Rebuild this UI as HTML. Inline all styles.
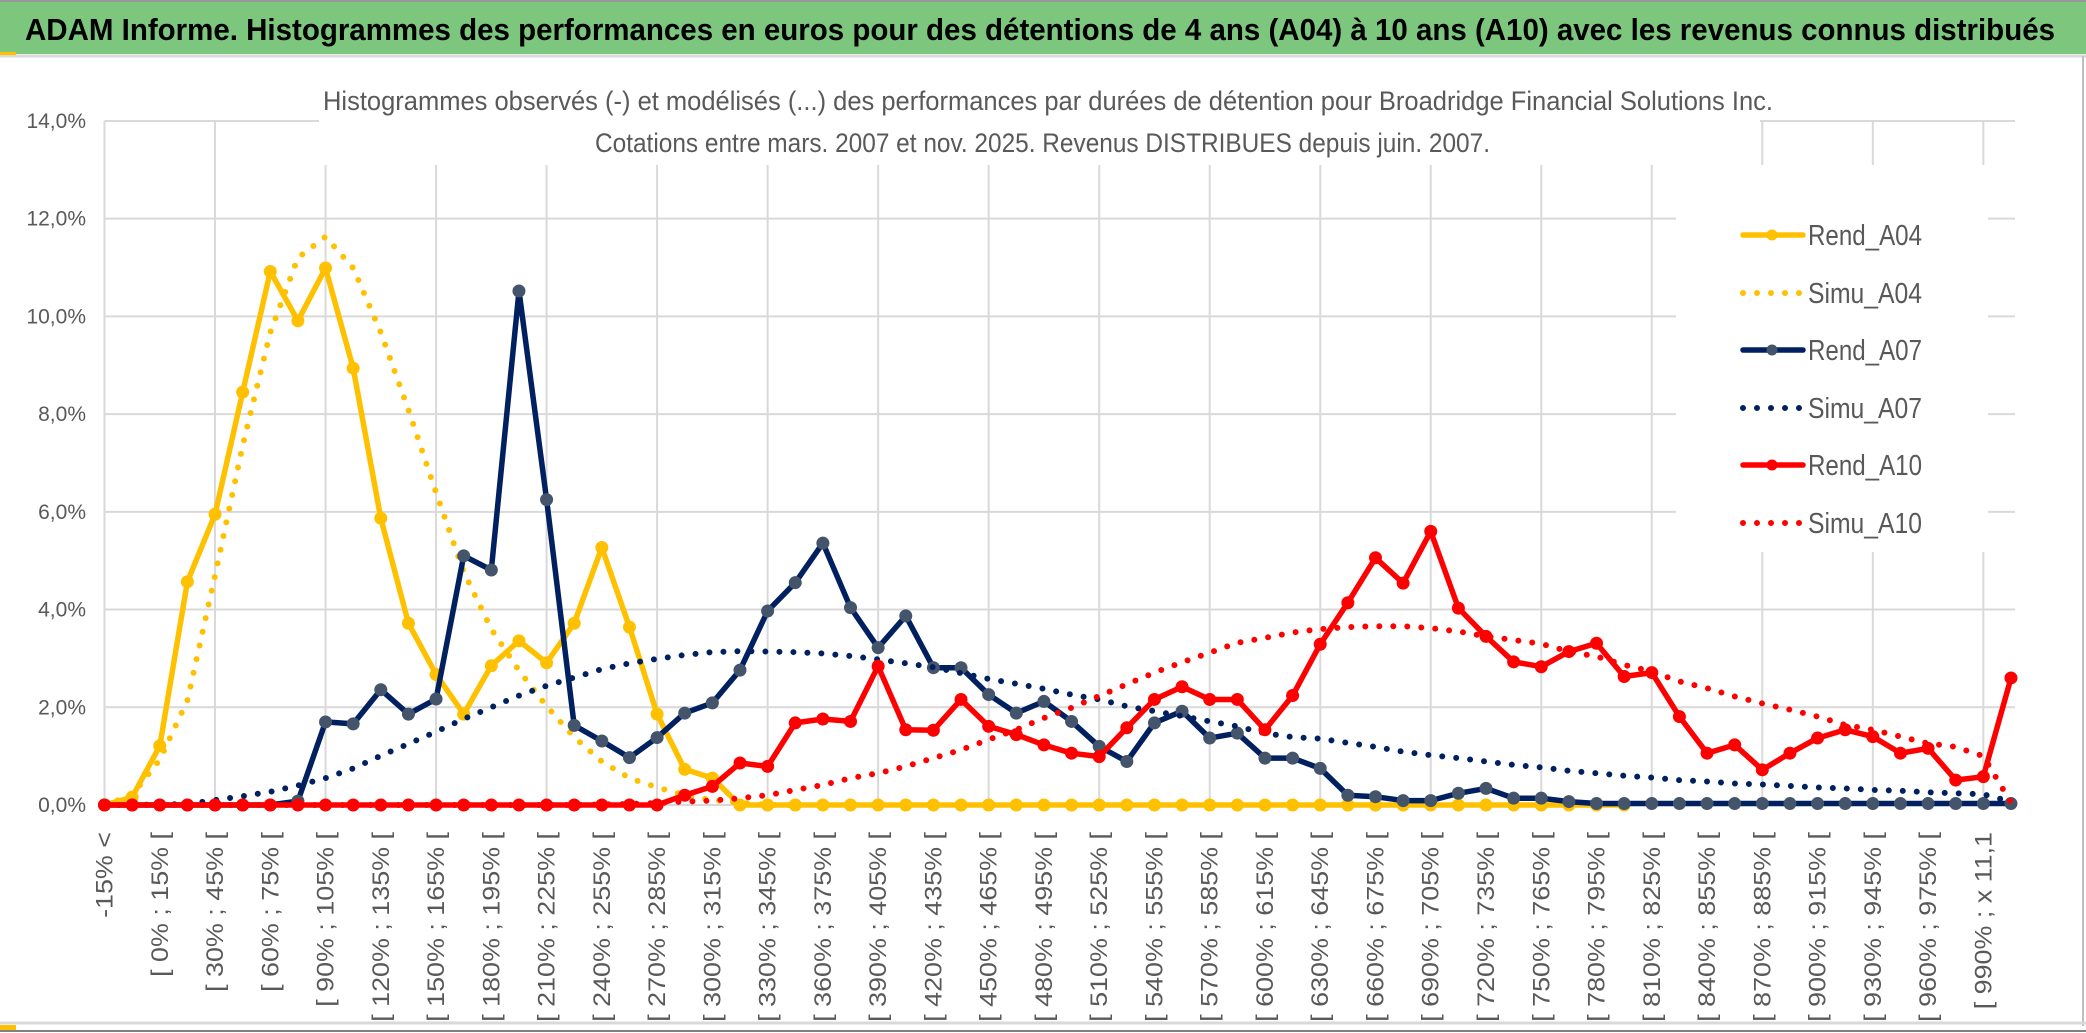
<!DOCTYPE html>
<html><head><meta charset="utf-8"><style>
html,body{margin:0;padding:0;background:#fff;}
svg{display:block;font-family:"Liberation Sans",sans-serif;}
</style></head><body>
<svg id="chart" width="2086" height="1033" viewBox="0 0 2086 1033" xmlns="http://www.w3.org/2000/svg">
<rect x="0" y="0" width="2086" height="1033" fill="#fff"/>
<rect x="0" y="2" width="2086" height="52" fill="#7DC67E"/>
<line x1="0" y1="1" x2="2086" y2="1" stroke="#999" stroke-width="2"/>
<line x1="0" y1="56" x2="2086" y2="56" stroke="#d9d9d9" stroke-width="3"/>
<rect x="0" y="52" width="16" height="3" fill="#FFC000"/>
<text x="25" y="40" font-size="31" font-weight="bold" fill="#000" textLength="2030" lengthAdjust="spacingAndGlyphs">ADAM Informe. Histogrammes des performances en euros pour des détentions de 4 ans (A04) à 10 ans (A10) avec les revenus connus distribués</text>
<line x1="2083" y1="56" x2="2083" y2="1026" stroke="#bfbfbf" stroke-width="2"/>
<line x1="0" y1="1023" x2="2086" y2="1023" stroke="#d9d9d9" stroke-width="3"/>
<rect x="0" y="1025" width="16" height="5" fill="#FFC000"/>
<line x1="0" y1="1031" x2="2086" y2="1031" stroke="#808080" stroke-width="2"/>
<g id="grid"></g>
<g id="masks"></g>
<g id="series"></g>
<g id="axes"></g>
<g id="legend"></g>
</svg>
<script>
const categoriesLow = [];
for (let v = -30; v <= 1005; v += 15) categoriesLow.push(v);
const yTicks = [0, 2, 4, 6, 8, 10, 12, 14];
const yTickLabels = ["0,0%","2,0%","4,0%","6,0%","8,0%","10,0%","12,0%","14,0%"];
const rendA04 = [0,0.16,1.21,4.57,5.95,8.45,10.92,9.91,10.99,8.94,5.87,3.72,2.67,1.86,2.85,3.36,2.91,3.72,5.27,3.64,1.86,0.73,0.55,
0,0,0,0,0,0,0,0,0,0,0,0,0,0,0,0,0,0,0,0,0,0,0,0,0,0,0,0,0,0,0,0,0,null,null,null,null,null,null,null,null,null,null,null,null,null,null];
const simuA04 = [0,0.2,0.93,2.14,4.69,7.36,9.67,11.2,11.63,10.99,9.67,8.09,6.39,4.77,3.6,2.75,2.02,1.39,0.89,0.55,0.36,0.2,0.1,0.05,0,0,
null,null,null,null,null,null,null,null,null,null,null,null,null,null,null,null,null,null,null,null,null,null,null,null,null,null,null,null,null,null,null,null,null,null,null,null,null,null,null,null,null,null,null,null];
const rendA07 = [0,0,0,0,0,0,0,0.08,1.7,1.66,2.36,1.86,2.17,5.1,4.81,10.52,6.25,1.63,1.31,0.97,1.38,
1.88,2.09,2.76,3.97,4.55,5.36,4.04,3.22,3.87,2.81,2.81,2.26,1.88,2.12,1.71,1.2,0.89,1.68,1.92,1.37,1.47,0.96,0.96,0.75,0.2,0.17,0.09,0.09,0.24,0.34,0.14,0.14,0.07,
0.03,0.03,0.03,0.03,0.03,0.03,0.03,0.03,0.03,0.03,0.03,0.03,0.03,0.03,0.03,0.03];
const simuA07 = [0,0,0.01,0.02,0.1,0.18,0.27,0.4,0.55,0.75,1.01,1.25,1.5,1.76,2.0,2.24,2.44,2.61,2.78,2.9,2.99,3.07,3.13,3.15,3.14,3.13,3.1,3.05,2.98,2.9,2.82,
2.7,2.58,2.48,2.38,2.26,2.16,2.02,1.92,1.82,1.71,1.61,1.47,1.39,1.36,1.27,1.19,1.09,1.02,0.96,0.89,0.82,0.77,0.7,0.65,0.6,0.56,0.51,0.48,0.44,0.42,0.39,0.36,0.34,0.31,0.29,0.26,0.24,0.22,0.07];
const rendA10 = [0,0,0,0,0,0,0,0,0,0,0,0,0,0,0,0,0,0,0,0,0,
0.2,0.38,0.86,0.79,1.68,1.76,1.71,2.84,1.54,1.53,2.16,1.61,1.44,1.23,1.06,0.99,1.58,2.16,2.42,2.16,2.16,1.54,2.24,3.29,4.14,5.06,4.54,5.6,4.03,3.45,2.93,2.83,3.14,3.31,2.63,2.71,1.81,1.06,1.23,0.72,1.06,1.37,1.54,1.4,1.06,1.16,0.51,0.58,2.6];
const simuA10 = [0,0,0,0,0,0,0,0,0,0,0,0,0,0,0,0,0,0,0.01,0.02,0.04,0.07,0.09,0.14,0.2,0.31,0.41,0.55,0.65,0.79,0.96,1.13,1.34,1.54,1.78,1.99,2.23,2.47,2.71,2.92,3.12,
3.32,3.42,3.53,3.6,3.64,3.66,3.66,3.62,3.55,3.45,3.38,3.3,3.14,3.04,2.87,2.73,2.53,2.39,2.22,2.08,1.95,1.81,1.64,1.54,1.4,1.26,1.19,1.0,0.05];

const NS = "http://www.w3.org/2000/svg";
const X0 = 104.5, DX = 27.63, Y0 = 805, PPU = 48.86, XR = 2015;
const xAt = i => X0 + i * DX;
const yAt = v => Y0 - v * PPU;
function mk(tag, attrs, parent) {
  const e = document.createElementNS(NS, tag);
  for (const k in attrs) e.setAttribute(k, attrs[k]);
  parent.appendChild(e);
  return e;
}
const grid = document.getElementById('grid');
yTicks.forEach((t, k) => {
  const l = mk('line', {x1: X0, x2: XR, y1: yAt(t), y2: yAt(t), stroke: '#d9d9d9', 'stroke-width': 2}, grid);
  
  
});
for (let i = 0; i < categoriesLow.length; i += 4) {
  const l = mk('line', {x1: xAt(i), x2: xAt(i), y1: yAt(14), y2: Y0, stroke: '#d9d9d9', 'stroke-width': 2}, grid);
  
  
}
const masks = document.getElementById('masks');
mk('rect', {x: 319, y: 110, width: 1441, height: 55, fill: '#fff'}, masks);
mk('rect', {x: 1676, y: 165, width: 312, height: 387, fill: '#fff'}, masks);
const st1 = mk('text', {x: 323, y: 110, 'font-size': 27, fill: '#595959', textLength: 1450, lengthAdjust: 'spacingAndGlyphs'}, masks);
st1.textContent = "Histogrammes observés (-) et modélisés (...) des performances par durées de détention pour Broadridge Financial Solutions Inc.";


const st2 = mk('text', {x: 595, y: 152, 'font-size': 27, fill: '#595959', textLength: 895, lengthAdjust: 'spacingAndGlyphs'}, masks);
st2.textContent = "Cotations entre mars. 2007 et nov. 2025. Revenus DISTRIBUES depuis juin. 2007.";



const axes = document.getElementById('axes');
yTicks.forEach((t, k) => {
  const tx = mk('text', {x: 86, y: yAt(t) + 7, 'font-size': 21, fill: '#595959', 'text-anchor': 'end'}, axes);
  tx.textContent = yTickLabels[k];
  
  
});
categoriesLow.forEach((v, i) => {
  if (i % 2 !== 0) return;
  let lab;
  if (i === 0) lab = "-15% <";
  else if (v >= 990) lab = "[ 990% ; x 11,1";
  else lab = "[ " + v + "% ; " + (v + 15) + "% [";
  const x = xAt(i) + 8;
  const tx = mk('text', {x: x, y: 832, 'font-size': 24, fill: '#595959', 'text-anchor': 'end', transform: 'rotate(-90 ' + x + ' 832)'}, axes);
  tx.textContent = lab;
  
  
  const w = tx.getComputedTextLength();
  tx.setAttribute('textLength', (w * 1.12).toFixed(1));
  tx.setAttribute('lengthAdjust', 'spacingAndGlyphs');
});

const seriesG = document.getElementById('series');
function pathFor(vals) {
  let d = '', pen = false;
  vals.forEach((v, i) => {
    if (v === null) { pen = false; return; }
    d += (pen ? 'L' : 'M') + xAt(i).toFixed(1) + ',' + yAt(v).toFixed(1);
    pen = true;
  });
  return d;
}
function drawSolid(vals, color, mcolor, name) {
  const p = mk('path', {d: pathFor(vals), fill: 'none', stroke: color, 'stroke-width': 5.5, 'stroke-linejoin': 'round'}, seriesG);
  
  
  vals.forEach((v, i) => {
    if (v === null) return;
    const c = mk('circle', {cx: xAt(i), cy: yAt(v), r: 6.5, fill: mcolor}, seriesG);
    
    
  });
}
function drawDotted(vals, color, name) {
  const p = mk('path', {d: pathFor(vals), fill: 'none', stroke: color, 'stroke-width': 6, 'stroke-linecap': 'round', 'stroke-dasharray': '0 14'}, seriesG);
  
  
}
drawSolid(rendA04, '#FFC000', '#FFC000', 'rend-a04');
drawDotted(simuA04, '#FFC000', 'simu-a04');
drawSolid(rendA07, '#002060', '#44546A', 'rend-a07');
drawDotted(simuA07, '#002060', 'simu-a07');
drawSolid(rendA10, '#FF0000', '#FF0000', 'rend-a10');
drawDotted(simuA10, '#FF0000', 'simu-a10');

const legend = document.getElementById('legend');
const legItems = [
  ['Rend_A04', '#FFC000', '#FFC000', true, 235],
  ['Simu_A04', '#FFC000', null, false, 293],
  ['Rend_A07', '#002060', '#44546A', true, 350],
  ['Simu_A07', '#002060', null, false, 408],
  ['Rend_A10', '#FF0000', '#FF0000', true, 465],
  ['Simu_A10', '#FF0000', null, false, 523]
];
legItems.forEach(it => {
  const g = mk('g', {}, legend);
  
  
  const y = it[4];
  if (it[3]) {
    mk('line', {x1: 1743, x2: 1803, y1: y, y2: y, stroke: it[1], 'stroke-width': 5.5, 'stroke-linecap': 'round'}, g);
    mk('circle', {cx: 1772, cy: y, r: 5.5, fill: it[2]}, g);
  } else {
    mk('line', {x1: 1743, x2: 1803, y1: y, y2: y, stroke: it[1], 'stroke-width': 6, 'stroke-linecap': 'round', 'stroke-dasharray': '0 14'}, g);
  }
  const t = mk('text', {x: 1808, y: y + 10, 'font-size': 29, fill: '#595959', textLength: 114, lengthAdjust: 'spacingAndGlyphs'}, g);
  t.textContent = it[0];
});
</script>
</body></html>
